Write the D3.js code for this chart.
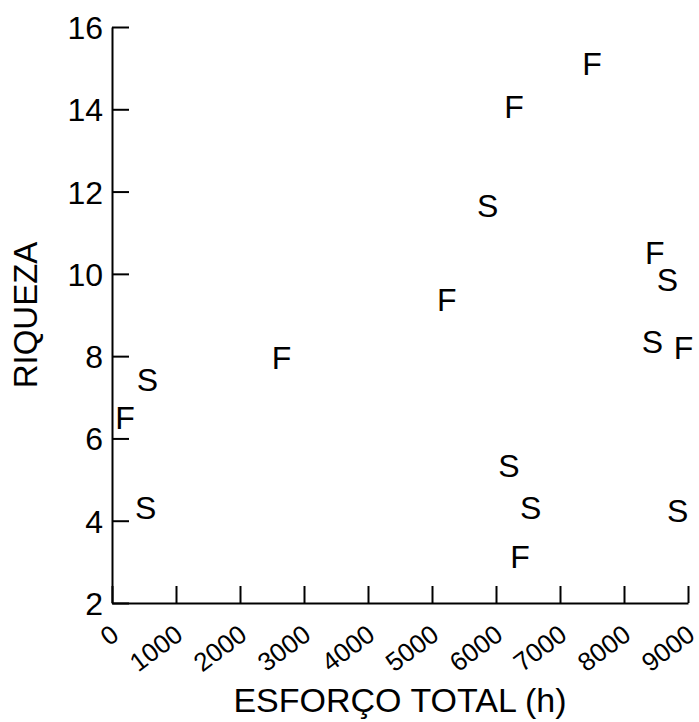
<!DOCTYPE html>
<html>
<head>
<meta charset="utf-8">
<script src="https://cdn.jsdelivr.net/npm/d3@7"></script>
<style>
  html, body { margin: 0; padding: 0; background: #fff; }
  svg { display: block; }
  text { font-family: "Liberation Sans", Arial, Helvetica, sans-serif; fill: #000; }
</style>
</head>
<body>
<svg id="chart" width="699" height="722"></svg>
<script>
// ---- data ----
const effort   = [7500, 6280, 5870, 8480, 8680, 8445, 8930, 5230, 2650, 555, 205, 525, 6200, 6540, 8840, 6375];
const richness = [15.12, 14.06, 11.66, 10.53, 9.87, 8.36, 8.20, 9.37, 7.96, 7.44, 6.51, 4.31, 5.35, 4.32, 4.24, 3.13];
const group    = ["F", "F", "S", "F", "S", "S", "F", "F", "F", "S", "F", "S", "S", "S", "S", "F"];
const xTicks   = [0, 1000, 2000, 3000, 4000, 5000, 6000, 7000, 8000, 9000];
const yTicks   = [2, 4, 6, 8, 10, 12, 14, 16];
const xTitle   = "ESFORÇO TOTAL (h)";
const yTitle   = "RIQUEZA";

// ---- layout ----
const svg = d3.select("#chart");
const mLeft = 112, mRight = 688, mTop = 27, mBottom = 603;

const x = d3.scaleLinear().domain([0, 9000]).range([mLeft, mRight]);
const y = d3.scaleLinear().domain([2, 16]).range([mBottom, mTop]);

// x axis
const xAxis = d3.axisBottom(x).tickValues(xTicks).tickSizeInner(-17).tickSizeOuter(0).tickFormat(d3.format("d"));
const gx = svg.append("g").attr("transform", `translate(0,${mBottom})`).call(xAxis);
gx.attr("font-size", 26).attr("font-family", "Liberation Sans, Arial, sans-serif");
gx.select(".domain").attr("stroke", "#000").attr("stroke-width", 2);
gx.selectAll(".tick line").attr("stroke", "#000").attr("stroke-width", 2);
gx.selectAll(".tick text")
  .attr("font-size", 26)
  .attr("fill", "#000")
  .attr("text-anchor", "end")
  .attr("x", 0).attr("y", 0).attr("dy", 0)
  .attr("transform", "translate(8,35) rotate(-37)");

// y axis
const yAxis = d3.axisLeft(y).tickValues(yTicks).tickSizeInner(-17).tickSizeOuter(0).tickFormat(d3.format("d"));
const gy = svg.append("g").attr("transform", `translate(${mLeft},0)`).call(yAxis);
gy.attr("font-size", 32).attr("font-family", "Liberation Sans, Arial, sans-serif");
gy.select(".domain").attr("stroke", "#000").attr("stroke-width", 2);
gy.selectAll(".tick line").attr("stroke", "#000").attr("stroke-width", 2);
gy.selectAll(".tick text")
  .attr("font-size", 32)
  .attr("fill", "#000")
  .attr("x", -9)
  .attr("dy", "0.36em");

// points as letters
const pts = effort.map((e, i) => ({ e, r: richness[i], g: group[i] }));
svg.append("g").selectAll("text.pt").data(pts).join("text")
  .attr("class", "pt")
  .attr("x", d => x(d.e))
  .attr("y", d => y(d.r))
  .attr("dy", "0.36em")
  .attr("text-anchor", "middle")
  .attr("font-size", 32)
  .text(d => d.g);

// titles
svg.append("text")
  .attr("x", (mLeft + mRight) / 2)
  .attr("y", 712)
  .attr("text-anchor", "middle")
  .attr("font-size", 34)
  .text(xTitle);

svg.append("text")
  .attr("transform", `translate(37,${(mTop + mBottom) / 2}) rotate(-90)`)
  .attr("text-anchor", "middle")
  .attr("font-size", 33)
  .text(yTitle);
</script>
</body>
</html>
